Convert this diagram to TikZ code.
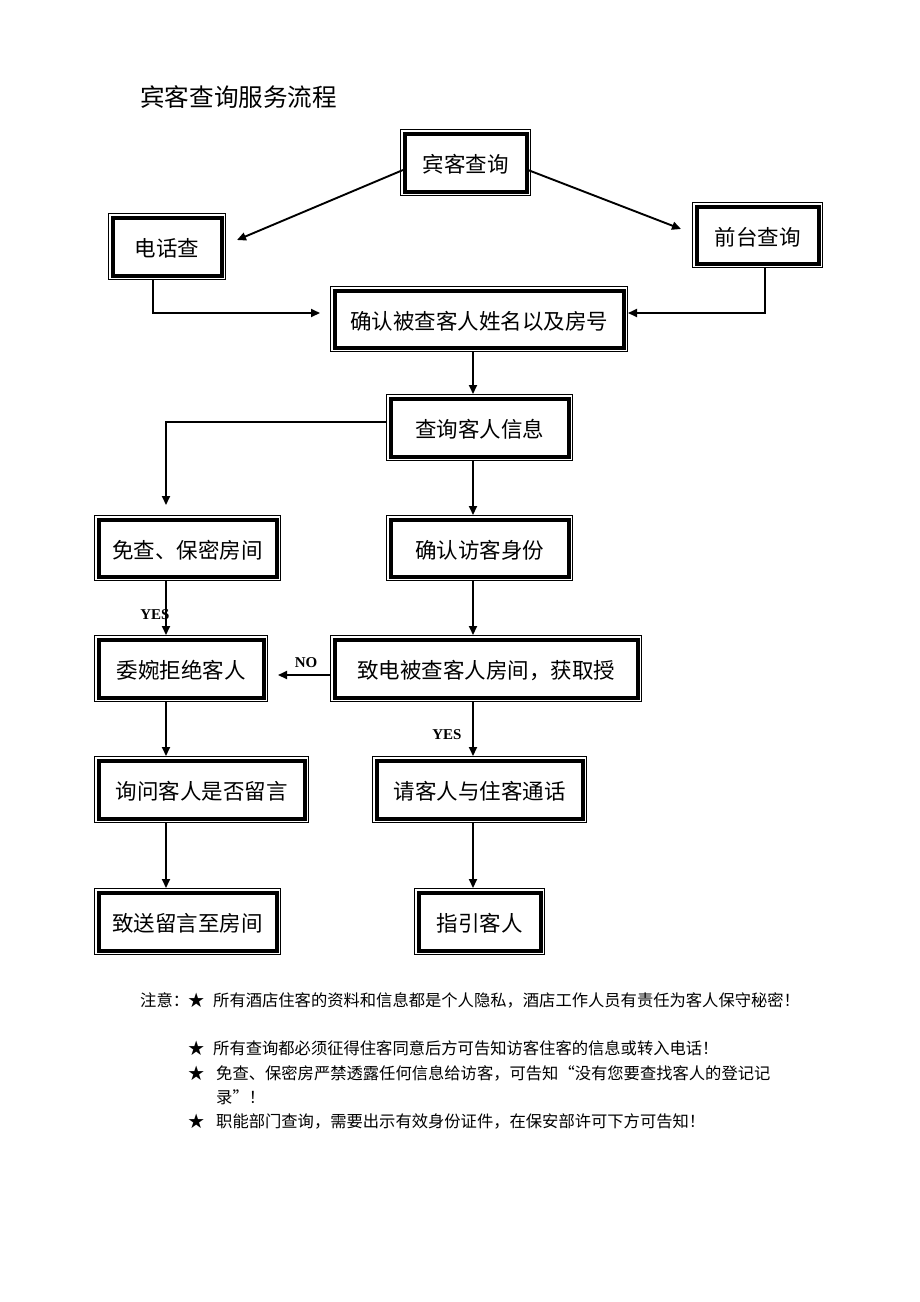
\documentclass[tikz,border=0pt]{standalone}
\usepackage{fontspec}
\newfontfamily\cjk{Noto Sans CJK SC}
\newfontfamily\tms{Liberation Serif}
\usetikzlibrary{arrows.meta}
\tikzset{
 fbox/.style={draw, line width=4pt, outer sep=4.5pt, inner sep=0pt, text depth=0pt, font=\cjk\fontsize{21.5}{25}\selectfont},
 frame/.style={line width=1pt},
 conn/.style={line width=1.9pt, -{Triangle[length=9pt,width=8pt]}},
 lbl/.style={font=\tms\bfseries\fontsize{15}{18}\selectfont, inner sep=0pt},
 note/.style={font=\cjk\fontsize{16.3}{19}\selectfont, anchor=west, inner sep=0pt},
}
\newcommand\mybox[6]{%
 \node[fbox, minimum width={#4-#2-9}, minimum height={#5-#3-9}] (#1) at ({(#2+#4)/2},{(#3+#5)/2}) {\raisebox{-2pt}{#6}};
 \draw[frame] ([shift={(0.5pt,-0.5pt)}]#1.north west) rectangle ([shift={(-0.5pt,0.5pt)}]#1.south east);
}
\begin{document}
\begin{tikzpicture}[x=1pt,y=-1pt]
\useasboundingbox (0,0) rectangle (920,1302);
\node[font=\cjk\fontsize{24.6}{28}\selectfont, anchor=west, inner sep=0pt] (title) at (140,97) {宾客查询服务流程};
\mybox{q}{400}{129}{531}{196}{宾客查询}
\mybox{tel}{108}{213}{226}{280}{电话查}
\mybox{ft}{692}{202}{823}{268}{前台查询}
\mybox{cf}{330}{286}{628}{352}{确认被查客人姓名以及房号}
\mybox{info}{386}{394}{573}{461}{查询客人信息}
\mybox{mc}{94}{515}{281}{581}{免查、保密房间}
\mybox{id}{386}{515}{573}{581}{确认访客身份}
\mybox{ref}{94}{635}{268}{702}{委婉拒绝客人}
\mybox{call}{330}{635}{642}{702}{致电被查客人房间，获取授}
\mybox{ask}{94}{756}{309}{823}{询问客人是否留言}
\mybox{talk}{372}{756}{587}{823}{请客人与住客通话}
\mybox{send}{94}{888}{281}{955}{致送留言至房间}
\mybox{guide}{414}{888}{545}{955}{指引客人}
\coordinate (lx) at (166,0);
\coordinate (rx) at (473,0);
\coordinate (tx) at (153,0);
\coordinate (fx) at (765,0);
\coordinate (e1) at (237,240);
\coordinate (e2) at (681,229);
\draw[conn] ([shift={(3pt,-7.5pt)}]q.west) -- (e1);
\draw[conn] ([shift={(-3pt,-7.5pt)}]q.east) -- (e2);
\draw[conn, shorten >=10pt] (tel.south -| tx) |- ([yshift=6pt]cf.west);
\draw[conn] (ft.south -| fx) |- ([yshift=6pt]cf.east);
\draw[conn] (cf.south -| rx) -- (info.north -| rx);
\draw[conn, shorten >=10pt] ([yshift=5.5pt]info.west) -| (mc.north -| lx);
\draw[conn] (info.south -| rx) -- (id.north -| rx);
\draw[conn] (mc.south -| lx) -- (ref.north -| lx);
\draw[conn] (id.south -| rx) -- (call.north -| rx);
\draw[conn, shorten >=10pt] ([yshift=-6.5pt]call.west) -- ([yshift=-6.5pt]ref.east);
\draw[conn] (ref.south -| lx) -- (ask.north -| lx);
\draw[conn] (call.south -| rx) -- (talk.north -| rx);
\draw[conn] (ask.south -| lx) -- (send.north -| lx);
\draw[conn] (talk.south -| rx) -- (guide.north -| rx);
\node[lbl] (y1) at (155,615) {YES};
\node[lbl] (no) at (306,663) {NO};
\node[lbl] (y2) at (447,735) {YES};
\node[note] (n0) at (140,1000) {注意：};
\node[note] (s1) at (188,1000) {★};
\node[note] (t1) at (213,1000) {所有酒店住客的资料和信息都是个人隐私，酒店工作人员有责任为客人保守秘密！};
\node[note] (s2) at (188,1048) {★};
\node[note] (t2) at (213,1048) {所有查询都必须征得住客同意后方可告知访客住客的信息或转入电话！};
\node[note] (s3) at (188,1073) {★};
\node[note] (t3) at (216,1073) {免查、保密房严禁透露任何信息给访客，可告知“没有您要查找客人的登记记};
\node[note] (t3b) at (216,1097) {录”！};
\node[note] (s4) at (188,1121) {★};
\node[note] (t4) at (216,1121) {职能部门查询，需要出示有效身份证件，在保安部许可下方可告知！};
\end{tikzpicture}
\end{document}
